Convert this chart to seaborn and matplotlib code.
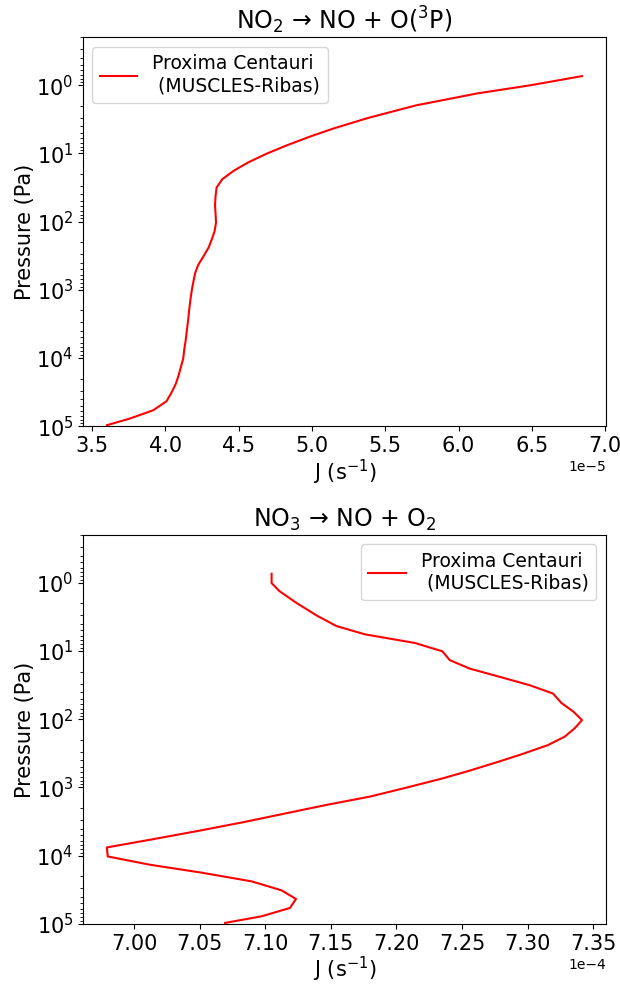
import numpy as np
import matplotlib
matplotlib.use("Agg")
import matplotlib.pyplot as plt
import seaborn as sns

# pressure levels of the model grid (Pa), shared by both panels
pressure = [0.738, 1.01, 1.32, 1.98, 3.01, 4.31, 5.69, 7.62, 10.1, 13.6,
            18.1, 23.9, 31.7, 42.0, 57.4, 77.8, 103.0, 136.0, 180.0, 239.0,
            327.0, 429.0, 566.0, 733.0, 1005.0, 1361.0, 1799.0, 2382.0, 3228.0, 4276.0,
            5715.0, 7568.0, 1.026e4, 1.358e4, 1.758e4, 2.377e4, 3.221e4, 4.305e4, 5.834e4, 7.727e4,
            9.66e4]

# NO2 -> NO + O(3P) photolysis rate (s^-1)
j_no2 = [6.842e-5, 6.484e-5, 6.130e-5, 5.710e-5, 5.387e-5, 5.148e-5, 4.985e-5, 4.829e-5, 4.691e-5, 4.564e-5,
         4.464e-5, 4.388e-5, 4.349e-5, 4.342e-5, 4.338e-5, 4.342e-5, 4.345e-5, 4.336e-5, 4.317e-5, 4.295e-5,
         4.258e-5, 4.224e-5, 4.203e-5, 4.192e-5, 4.180e-5, 4.171e-5, 4.164e-5, 4.158e-5, 4.151e-5, 4.144e-5,
         4.137e-5, 4.128e-5, 4.121e-5, 4.105e-5, 4.091e-5, 4.071e-5, 4.041e-5, 4.007e-5, 3.916e-5, 3.756e-5,
         3.600e-5]

# NO3 -> NO + O2 photolysis rate (s^-1)
j_no3 = [7.1048e-4, 7.1048e-4, 7.1107e-4, 7.1239e-4, 7.1391e-4, 7.1543e-4, 7.1759e-4, 7.2140e-4, 7.2350e-4, 7.2406e-4,
         7.2558e-4, 7.2787e-4, 7.3015e-4, 7.3193e-4, 7.3256e-4, 7.3350e-4, 7.3414e-4, 7.3358e-4, 7.3282e-4, 7.3155e-4,
         7.2952e-4, 7.2761e-4, 7.2558e-4, 7.2355e-4, 7.2076e-4, 7.1797e-4, 7.1467e-4, 7.1162e-4, 7.0832e-4, 7.0503e-4,
         7.0147e-4, 6.9792e-4, 6.9799e-4, 7.0122e-4, 7.0503e-4, 7.0896e-4, 7.1124e-4, 7.1234e-4, 7.1188e-4, 7.0972e-4,
         7.0693e-4]

star_label = "Proxima Centauri\n (MUSCLES-Ribas)"

panels = [
    (j_no2, r"NO$_2$ → NO + O($^3$P)", "upper left"),
    (j_no3, r"NO$_3$ → NO + O$_2$", "upper right"),
]

fig, axes = plt.subplots(2, 1, figsize=(6.2, 9.85), dpi=100)
fig.subplots_adjust(left=0.134, right=0.977, top=0.962, bottom=0.062, hspace=0.28)

for ax, (jvals, title, loc) in zip(axes, panels):
    sns.lineplot(x=jvals, y=pressure, ax=ax, color="red", linewidth=1.5,
                 sort=False, estimator=None, label=star_label)
    ax.set_yscale("log")
    ax.set_ylim(1e5, 0.2)
    ax.ticklabel_format(axis="x", style="sci", scilimits=(0, 0), useOffset=False)
    ax.set_title(title, fontsize=17)
    ax.set_xlabel(r"J (s$^{-1}$)", fontsize=15, labelpad=1)
    ax.set_ylabel("Pressure (Pa)", fontsize=15, labelpad=1)
    ax.tick_params(axis="both", which="major", labelsize=15)
    ax.legend(loc=loc, fontsize=13.5)

plt.savefig("out.png", dpi=100)
